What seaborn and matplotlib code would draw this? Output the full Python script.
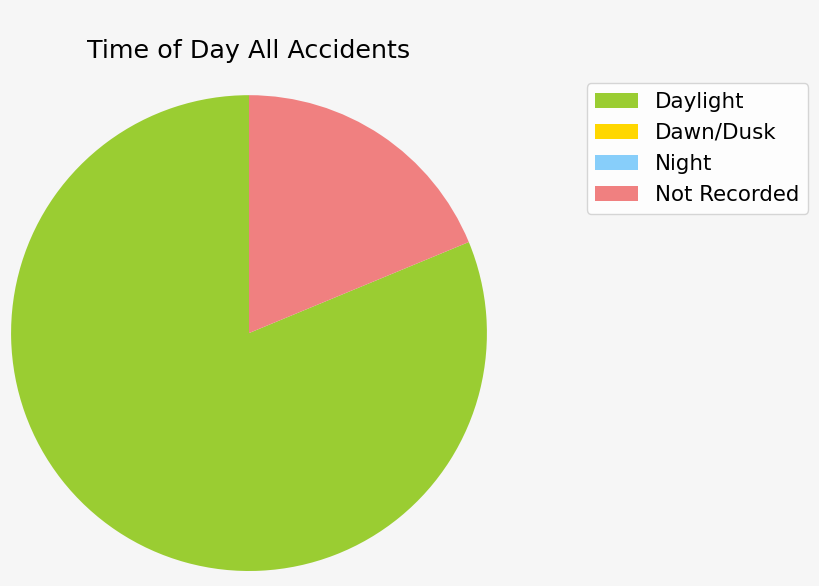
import matplotlib
matplotlib.use("Agg")
import matplotlib.pyplot as plt
import seaborn as sns

# Time of day breakdown for all accidents
labels = ['Daylight', 'Dawn/Dusk', 'Night', 'Not Recorded']
counts = [13, 0, 0, 3]
colors = ['yellowgreen', 'gold', 'lightskyblue', 'lightcoral']

sns.set_theme(style='white')
plt.rcParams['font.family'] = ['DejaVu Sans']
plt.rcParams['text.color'] = 'black'

fig = plt.figure(figsize=(8.2, 5.86), dpi=100)
fig.patch.set_facecolor('#f6f6f6')
ax = fig.add_axes([0.0134, 0.0256, 0.5805, 0.812])

wedges, _ = ax.pie(counts, colors=colors, startangle=90, counterclock=True,
                   wedgeprops={'linewidth': 0})
ax.set_aspect('equal')
ax.set_xlim(-1, 1)
ax.set_ylim(-1, 1)
ax.set_title('Time of Day All Accidents', fontsize=18.3, pad=27, color='black')

ax.legend(wedges, labels, loc='upper left', bbox_to_anchor=(1.21, 1.025),
          borderaxespad=0, fontsize=15.4, labelspacing=0.52,
          frameon=True, facecolor='white', edgecolor='#cccccc',
          framealpha=0.8, labelcolor='black')

fig.savefig('out.png', dpi=100, facecolor=fig.get_facecolor())
